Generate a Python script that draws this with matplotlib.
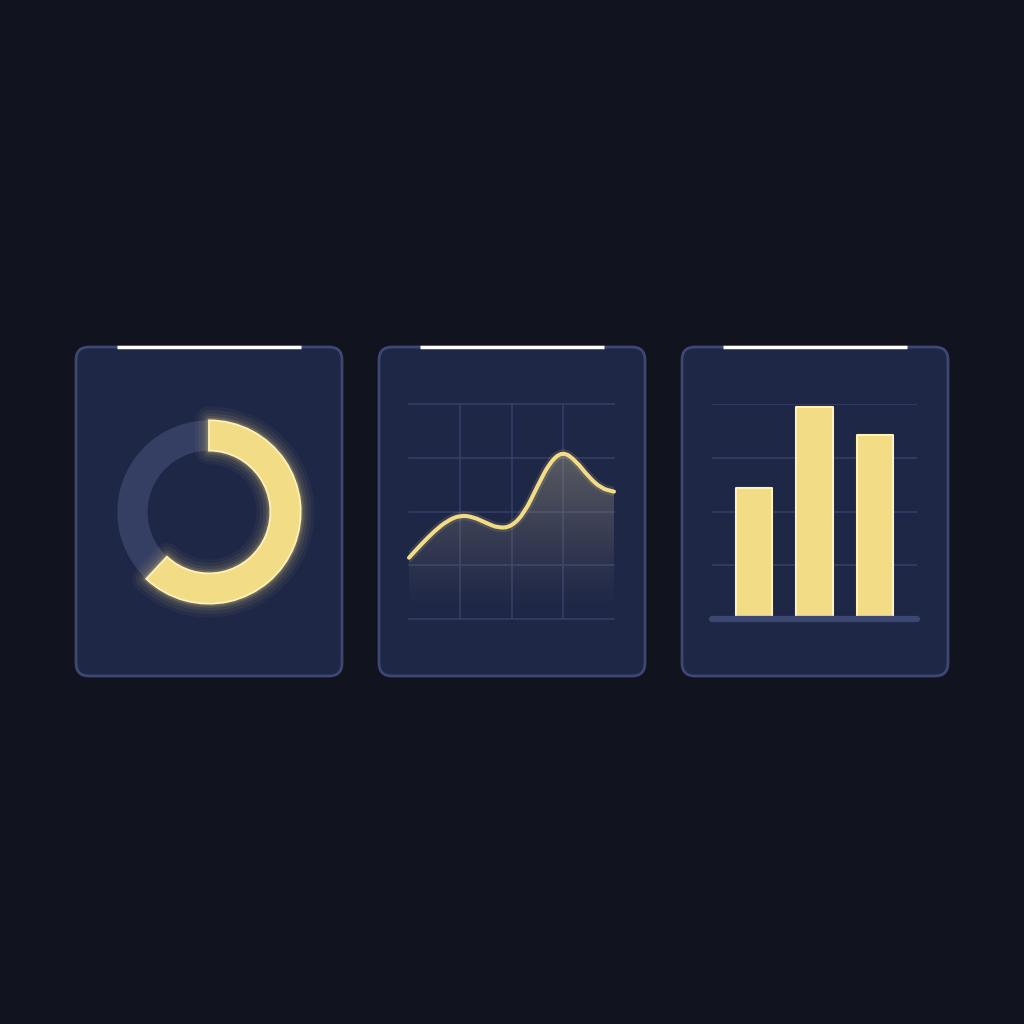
import matplotlib
matplotlib.use("Agg")
import matplotlib.pyplot as plt
import numpy as np
from matplotlib.patches import FancyBboxPatch, Wedge, PathPatch
from matplotlib.path import Path

# data
gauge_value = 0.62
line_x = [0, 0.25, 0.5, 0.75, 1.0, 1.25, 1.5, 1.75, 2.0, 2.25, 2.5, 2.75, 3.0, 3.25, 3.5, 3.75, 4.0]
line_y = [1.14, 1.40, 1.64, 1.83, 1.93, 1.90, 1.79, 1.69, 1.72, 1.97, 2.46, 2.92, 3.12, 2.95, 2.65, 2.43, 2.37]
bar_pos = [1, 2, 3]
bar_h = [2.43, 3.95, 3.43]

bg_col = "#11131e"
card_col = "#1f2747"
border_col = "#3d4872"
grid_col = "#36406a"
yellow = "#f2dc86"
yellow_edge = "#fff2b8"
track_col = "#353f63"

fig = plt.figure(figsize=(10.24, 10.24), dpi=100, facecolor=bg_col)
bg = fig.add_axes([0, 0, 1, 1])
bg.set_xlim(0, 1024)
bg.set_ylim(1024, 0)
bg.axis("off")

# cards
for left in [76, 379, 682]:
    card = FancyBboxPatch((left, 347), 266, 329, boxstyle="round,pad=0,rounding_size=13",
                          facecolor=card_col, edgecolor=border_col, linewidth=2)
    bg.add_patch(card)
    bg.plot([left + 41, left + 225], [346.5, 346.5], color="white", lw=2.5, solid_capstyle="butt")


def px_axes(l, t, w, h):
    a = fig.add_axes([l / 1024, 1 - (t + h) / 1024, w / 1024, h / 1024])
    a.patch.set_alpha(0)
    return a


# donut gauge
ax1 = px_axes(99, 402, 220, 220)
wedges, _ = ax1.pie([gauge_value, 1 - gauge_value], startangle=90, counterclock=False, radius=1,
                    colors=[yellow, track_col], wedgeprops=dict(width=0.33, linewidth=0))
yw = wedges[0]
for lw, al in [(20, 0.04), (15, 0.06), (10, 0.08), (6, 0.11), (3.5, 0.16)]:
    ax1.add_patch(Wedge((0, 0), 1, yw.theta1, yw.theta2, width=0.33, facecolor="none",
                        edgecolor=yellow, linewidth=lw, alpha=al, joinstyle="round"))
ax1.add_patch(Wedge((0, 0), 1, yw.theta1, yw.theta2, width=0.33, facecolor=yellow,
                    edgecolor=yellow_edge, linewidth=1.3))
ax1.set_xlim(-1.2, 1.2)
ax1.set_ylim(-1.2, 1.2)
ax1.set_aspect("equal")
ax1.axis("off")

# area line chart
ax2 = px_axes(409, 404, 205, 215)
ax2.set_xlim(0, 4)
ax2.set_ylim(0, 4)
ax2.axis("off")
for g in [0, 1, 2, 3, 4]:
    ax2.axhline(g, color=grid_col, lw=1.1, zorder=1, clip_on=False)
for g in [1, 2, 3]:
    ax2.axvline(g, color=grid_col, lw=1.1, zorder=1)

# smooth path through the read points (quadratic segments between midpoints)
pts = np.column_stack([line_x, line_y])
verts = [pts[0], (pts[0] + pts[1]) / 2]
codes = [Path.MOVETO, Path.LINETO]
for i in range(1, len(pts) - 1):
    verts += [pts[i], (pts[i] + pts[i + 1]) / 2]
    codes += [Path.CURVE3, Path.CURVE3]
verts.append(pts[-1])
codes.append(Path.LINETO)
curve = Path(verts, codes)
area = Path(verts + [(line_x[-1], 0), (line_x[0], 0), pts[0]],
            codes + [Path.LINETO, Path.LINETO, Path.CLOSEPOLY])

grad = np.zeros((200, 2, 4))
t = np.linspace(1, 0, 200)[:, None]
grad[..., 0] = 0.60
grad[..., 1] = 0.58
grad[..., 2] = 0.50
grad[..., 3] = 0.5 * np.clip((t * 4 - 0.15) / 3.0, 0, 1) ** 1.2
img = ax2.imshow(grad, extent=(0, 4, 0, 4), aspect="auto", zorder=2, origin="upper")
img.set_clip_path(area, transform=ax2.transData)
ax2.add_patch(PathPatch(curve, facecolor="none", edgecolor=yellow, lw=6.5, alpha=0.13, zorder=3,
                        capstyle="round"))
ax2.add_patch(PathPatch(curve, facecolor="none", edgecolor=yellow, lw=2.9, zorder=4,
                        capstyle="round", joinstyle="round", clip_on=False))

# bar chart
ax3 = px_axes(712, 404, 205, 215)
ax3.set_xlim(0.31, 3.69)
ax3.set_ylim(0, 4)
ax3.axis("off")
for g in [1, 2, 3, 4]:
    ax3.axhline(g, color=grid_col, lw=1.1, zorder=1)
bars = ax3.bar(bar_pos, bar_h, width=0.6, color=yellow, edgecolor=yellow_edge, linewidth=1.5,
               zorder=3)
for b in bars:
    b.set_joinstyle("round")
ax3.axhline(0, color=border_col, lw=4.5, zorder=4, solid_capstyle="round", clip_on=False)

fig.savefig("out.png", dpi=100, facecolor=bg_col)
